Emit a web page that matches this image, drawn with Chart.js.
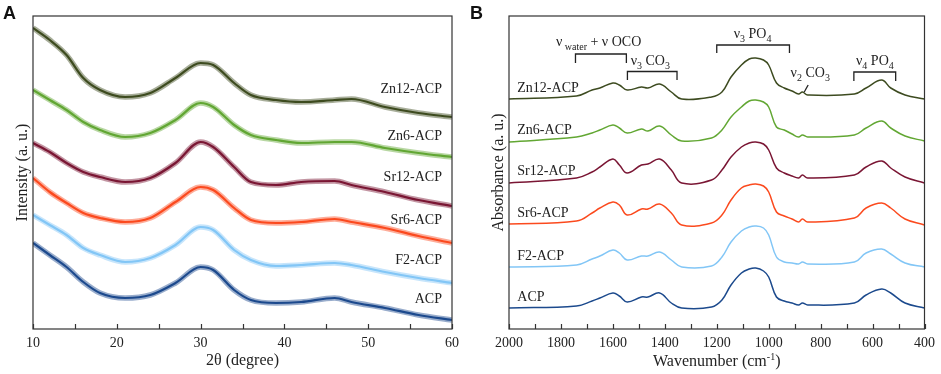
<!DOCTYPE html>
<html>
<head>
<meta charset="utf-8">
<script src="https://cdn.jsdelivr.net/npm/chart.js@4.4.0/dist/chart.umd.min.js"></script>
<style>
  body { margin: 0; background: #fff; }
  #wrap { position: relative; width: 941px; height: 374px; }
  canvas { position: absolute; top: 0; }
  .tag { position: absolute; font-family: "Liberation Sans", Arial, sans-serif; font-weight: bold; font-size: 18px; color: #111; }
</style>
</head>
<body>
<div id="wrap">
  <canvas id="xrd" width="470" height="374" style="left:0"></canvas>
  <canvas id="ftir" width="471" height="374" style="left:470px"></canvas>
  <div class="tag" style="left:3px;top:3px">A</div>
  <div class="tag" style="left:470px;top:3px">B</div>
</div>
<script>
const SERIF = '"Liberation Serif", "Times New Roman", serif';
Chart.defaults.font.family = SERIF;
Chart.defaults.color = '#222';

const sampleNames = ['Zn12-ACP', 'Zn6-ACP', 'Sr12-ACP', 'Sr6-ACP', 'F2-ACP', 'ACP'];
const sampleColors = ['#3d4b20', '#62a733', '#7a1634', '#fb4a1e', '#82c6f6', '#1c4a8d'];

// panel A: XRD, stacked (a.u.)
const twoTheta = [10, 12, 14, 16, 18, 21, 24, 27, 30, 31.5, 34, 36, 39, 42, 46, 48, 52, 56, 60];
const xrdZn12 = [301, 289, 274, 251, 239, 232, 236, 251, 266, 264, 246, 234, 229, 227, 229, 230, 222, 216, 212];
const xrdZn6  = [239, 229, 219, 207, 199, 192, 196, 209, 226, 222, 204, 194, 189, 186, 187, 187, 181, 176, 172];
const xrdSr12 = [186, 177, 166, 157, 152, 147, 151, 166, 187, 182, 162, 147, 144, 147, 148, 144, 137, 129, 123];
const xrdSr6  = [151, 137, 126, 116, 111, 107, 111, 127, 142, 139, 121, 109, 106, 107, 110, 107, 101, 93, 86];
const xrdF2   = [114, 104, 94, 81, 74, 67, 71, 84, 102, 99, 79, 69, 63, 64, 66, 64, 57, 51, 46];
const xrdACP  = [86, 74, 62, 47, 36, 31, 34, 46, 62, 59, 39, 29, 26, 27, 31, 27, 21, 14, 9];
const xrdSeries = [xrdZn12, xrdZn6, xrdSr12, xrdSr6, xrdF2, xrdACP];
const xrdTicks = [10, 15, 20, 25, 30, 35, 40, 45, 50, 55, 60];

// panel B: FTIR, stacked (a.u.)
const wavenumber = [2000, 1740, 1680, 1650, 1600, 1575, 1545, 1490, 1465, 1420, 1375, 1335,
                    1220, 1180, 1145, 1105, 1075, 1050, 1020, 1000, 970, 940, 910, 885, 870, 850,
                    670, 625, 565, 530, 475, 400];
const ftirZn12 = [230, 233, 239, 241, 246, 244, 239, 242, 241, 245, 237, 230, 232, 237, 252, 264, 270, 271, 269, 264, 246, 241, 238, 235, 237, 234, 235, 241, 249, 241, 234, 230];
const ftirZn6  = [187, 192, 196, 199, 204, 201, 196, 200, 198, 203, 194, 188, 191, 199, 212, 222, 228, 229, 227, 222, 202, 199, 195, 192, 194, 192, 194, 201, 208, 201, 193, 188];
const ftirSr12 = [146, 151, 157, 162, 170, 164, 156, 164, 165, 170, 159, 146, 149, 159, 172, 182, 186, 187, 185, 179, 161, 156, 153, 151, 154, 151, 154, 162, 168, 161, 152, 146];
const ftirSr6  = [105, 108, 116, 121, 127, 124, 114, 120, 120, 125, 116, 104, 106, 114, 129, 141, 144, 145, 143, 137, 117, 113, 110, 107, 110, 107, 111, 121, 126, 121, 110, 104];
const ftirF2   = [62, 64, 70, 73, 79, 76, 69, 73, 73, 77, 69, 62, 63, 72, 87, 98, 102, 103, 101, 94, 72, 67, 66, 65, 67, 65, 67, 76, 80, 75, 66, 62];
const ftirACP  = [21, 23, 28, 31, 36, 33, 27, 32, 32, 36, 26, 21, 22, 29, 44, 56, 60, 61, 58, 52, 32, 28, 26, 24, 26, 24, 26, 34, 40, 36, 26, 21];
const ftirSeries = [ftirZn12, ftirZn6, ftirSr12, ftirSr6, ftirF2, ftirACP];
const ftirTicks = [2000, 1900, 1800, 1700, 1600, 1500, 1400, 1300, 1200, 1100, 1000, 900, 800, 700, 600, 500, 400];

function toPoints(xs, ys) {
  return xs.map((x, i) => ({x: x, y: ys[i]}));
}

function fade(hex, a) {
  const n = parseInt(hex.slice(1), 16);
  return 'rgba(' + (n >> 16) + ',' + ((n >> 8) & 255) + ',' + (n & 255) + ',' + a + ')';
}

// text made of pieces with sub/superscripts, centred on x
function richText(ctx, parts, x, y, size) {
  let w = 0;
  parts.forEach(p => {
    ctx.font = (p.sub || p.sup ? 10 : size) + 'px ' + SERIF;
    p.w = ctx.measureText(p.t).width;
    w += p.w;
  });
  let cx = x - w / 2;
  ctx.textAlign = 'left';
  parts.forEach(p => {
    ctx.font = (p.sub || p.sup ? 10 : size) + 'px ' + SERIF;
    ctx.fillText(p.t, cx, y + (p.sub ? 3.5 : 0) + (p.sup ? -6 : 0));
    cx += p.w;
  });
}

const panelDecor = {
  id: 'panelDecor',
  afterDraw(chart, args, opts) {
    const {ctx, chartArea: area} = chart;
    const xs = chart.scales.x, ys = chart.scales.y;
    ctx.save();
    ctx.strokeStyle = '#333';
    ctx.lineWidth = 1.2;
    ctx.strokeRect(area.left, area.top, area.right - area.left, area.bottom - area.top);
    ctx.beginPath();
    opts.ticks.forEach(v => {
      const px = Math.round(xs.getPixelForValue(v)) + 0.5;
      ctx.moveTo(px, area.bottom);
      ctx.lineTo(px, area.bottom - 5);
    });
    ctx.stroke();

    ctx.fillStyle = '#222';
    ctx.textBaseline = 'middle';
    ctx.font = '14px ' + SERIF;
    opts.labels.forEach(l => {
      ctx.textAlign = l.align;
      ctx.fillText(l.text, xs.getPixelForValue(l.x), ys.getPixelForValue(l.y));
    });

    ctx.textBaseline = 'alphabetic';
    ctx.lineWidth = 1.3;
    ctx.strokeStyle = '#222';
    (opts.brackets || []).forEach(b => {
      const x1 = xs.getPixelForValue(b.from), x2 = xs.getPixelForValue(b.to);
      const yt = ys.getPixelForValue(b.top), yb = ys.getPixelForValue(b.bottom);
      ctx.beginPath();
      ctx.moveTo(x1, yb); ctx.lineTo(x1, yt); ctx.lineTo(x2, yt); ctx.lineTo(x2, yb);
      ctx.stroke();
    });
    (opts.leaders || []).forEach(d => {
      ctx.beginPath();
      ctx.moveTo(xs.getPixelForValue(d.x1), ys.getPixelForValue(d.y1));
      ctx.lineTo(xs.getPixelForValue(d.x2), ys.getPixelForValue(d.y2));
      ctx.stroke();
    });
    (opts.notes || []).forEach(n => richText(ctx, n.parts, xs.getPixelForValue(n.x), ys.getPixelForValue(n.y), 14));

    richText(ctx, opts.xTitle, (area.left + area.right) / 2, opts.xTitleY, 16);
    ctx.restore();
  }
};

function panelOptions(o) {
  return {
    responsive: false,
    animation: false,
    devicePixelRatio: 1,
    layout: {padding: {top: 16, right: o.rightPad, left: 0, bottom: 0}},
    plugins: {legend: {display: false}, tooltip: {enabled: false}, panelDecor: o.decor},
    elements: {point: {radius: 0}},
    scales: {
      x: {
        type: 'linear', min: o.min, max: o.max, reverse: o.reverse,
        afterFit: s => { s.height = 45; },
        grid: {display: false, drawTicks: false},
        border: {display: false},
        ticks: {stepSize: o.step, autoSkip: false, maxRotation: 0, padding: 6, font: {size: 14}, color: '#222',
                callback: v => String(v)}
      },
      y: {
        min: 0, max: 313,
        afterFit: s => { s.width = o.yWidth; },
        grid: {display: false, drawTicks: false},
        border: {display: false},
        ticks: {display: false},
        title: {display: true, text: o.yTitle, font: {size: 16}, color: '#222', padding: {top: o.titlePad, bottom: 0}}
      }
    }
  };
}

// XRD: faint band for the noise, core line on top
const xrdSets = [];
xrdSeries.forEach((s, i) => {
  xrdSets.push({data: toPoints(twoTheta, s), borderColor: fade(sampleColors[i], 0.45), borderWidth: 5.5,
                cubicInterpolationMode: 'monotone', fill: false});
  xrdSets.push({data: toPoints(twoTheta, s), borderColor: sampleColors[i], borderWidth: 2.2,
                cubicInterpolationMode: 'monotone', fill: false});
});

new Chart(document.getElementById('xrd'), {
  type: 'line',
  data: {datasets: xrdSets},
  options: panelOptions({
    min: 10, max: 60, step: 10, reverse: false, yWidth: 33, rightPad: 18,
    yTitle: 'Intensity (a. u.)', titlePad: 13,
    decor: {
      ticks: xrdTicks,
      labels: sampleNames.map((t, i) => ({text: t, x: 58.8, y: [240, 193, 152, 109, 69, 30][i], align: 'right'})),
      xTitle: [{t: '2θ (degree)'}],
      xTitleY: 365
    }
  }),
  plugins: [panelDecor]
});

new Chart(document.getElementById('ftir'), {
  type: 'line',
  data: {
    datasets: ftirSeries.map((s, i) => ({
      data: toPoints(wavenumber, s), borderColor: sampleColors[i], borderWidth: 1.5,
      tension: 0.4, fill: false
    }))
  },
  options: panelOptions({
    min: 400, max: 2000, step: 200, reverse: true, yWidth: 39, rightPad: 14,
    yTitle: 'Absorbance (a. u.)', titlePad: 19,
    decor: {
      ticks: ftirTicks,
      labels: sampleNames.map((t, i) => ({text: t, x: 1968, y: [240.5, 198.5, 157.5, 115.5, 72.5, 31.5][i], align: 'left'})),
      brackets: [
        {from: 1744, to: 1548, top: 275, bottom: 266},
        {from: 1544, to: 1353, top: 257.5, bottom: 249},
        {from: 1200, to: 920, top: 284, bottom: 276},
        {from: 672, to: 511, top: 257, bottom: 248}
      ],
      leaders: [{x1: 848, y1: 244, x2: 863, y2: 237}],
      notes: [
        {x: 1655, y: 283, parts: [{t: 'ν'}, {t: ' water', sub: true}, {t: ' + ν OCO'}]},
        {x: 1456, y: 264, parts: [{t: 'ν'}, {t: '3', sub: true}, {t: ' CO'}, {t: '3', sub: true}]},
        {x: 1062, y: 291, parts: [{t: 'ν'}, {t: '3', sub: true}, {t: ' PO'}, {t: '4', sub: true}]},
        {x: 840, y: 252, parts: [{t: 'ν'}, {t: '2', sub: true}, {t: ' CO'}, {t: '3', sub: true}]},
        {x: 591, y: 264, parts: [{t: 'ν'}, {t: '4', sub: true}, {t: ' PO'}, {t: '4', sub: true}]}
      ],
      xTitle: [{t: 'Wavenumber (cm'}, {t: '-1', sup: true}, {t: ')'}],
      xTitleY: 366
    }
  }),
  plugins: [panelDecor]
});
</script>
</body>
</html>
